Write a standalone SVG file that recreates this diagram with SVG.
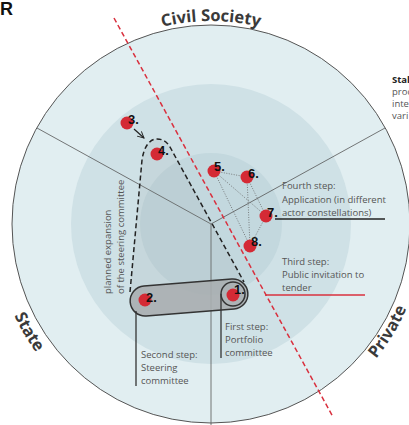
<svg xmlns="http://www.w3.org/2000/svg" width="409" height="425" viewBox="0 0 409 425">
<defs>
<style>
.lbl{font-family:"Open Sans","Liberation Sans",sans-serif;font-size:9.5px;fill:#555}
.num{font-family:"Liberation Sans",Arial,sans-serif;font-size:13px;font-weight:bold;fill:#111}
.sector{font-family:"Open Sans","Liberation Sans",sans-serif;font-size:16.5px;font-weight:bold;fill:#3a3a3a}
.node{fill:#d42a35}
.div{stroke:#555;stroke-width:0.8;fill:none}
.dot{stroke:#666;stroke-width:0.8;stroke-dasharray:1 1.5;fill:none}
.lead{stroke:#333;stroke-width:1.3;fill:none}
</style>
<marker id="open" viewBox="0 0 10 10" refX="9" refY="5" markerWidth="8" markerHeight="8" markerUnits="userSpaceOnUse" orient="auto">
<polyline points="1,1 9,5 1,9" fill="none" stroke="#222" stroke-width="1.2"/>
</marker>
<path id="arcTop" d="M 8,224 A 203 203 0 0 1 414,224"/>
<path id="arcState" d="M -6,224 A 217 217 0 0 0 211,441"/>
<path id="arcPrivate" d="M 211,437 A 213 213 0 0 0 424,224"/>
</defs>
<rect width="409" height="425" fill="#fff"/>
<g id="rings">
<circle cx="211" cy="224" r="199" fill="#e1eef1" stroke="#555" stroke-width="1"/>
<circle cx="211" cy="224" r="140" fill="#cfe1e6"/>
<circle cx="211" cy="224" r="71" fill="#c3d8de"/>
</g>
<g id="dividers">
<line class="div" x1="211" y1="224" x2="37" y2="128"/>
<line class="div" x1="211" y1="224" x2="385" y2="128"/>
<line class="div" x1="211" y1="224" x2="211" y2="425"/>
</g>
<g id="lasso">
<path d="M 130,292 L 142,160 C 144,146 150,139 157,139 C 163,139 167,142 170,147 L 244,282 Z" fill="#8a9396" fill-opacity="0.12" stroke="none"/>
<path d="M 130,292 L 142,160 C 144,146 150,139 157,139 C 163,139 167,142 170,147 L 244,282" fill="none" stroke="#222" stroke-width="1.5" stroke-dasharray="5 3"/>
</g>
<g id="capsule">
<rect x="130" y="282.5" width="118" height="30" rx="15" fill="#a8aeb0" fill-opacity="0.9" stroke="#333" stroke-width="1.5" transform="rotate(-4.5 189 297.5)"/>
<circle cx="233" cy="294" r="12" fill="none" stroke="#333" stroke-width="1.5"/>
</g>
<g id="connectors">
<line class="dot" x1="214" y1="171" x2="247" y2="177"/>
<line class="dot" x1="214" y1="171" x2="266" y2="216"/>
<line class="dot" x1="214" y1="171" x2="250" y2="246"/>
<line class="dot" x1="247" y1="177" x2="266" y2="216"/>
<line class="dot" x1="247" y1="177" x2="250" y2="246"/>
<line class="dot" x1="266" y1="216" x2="250" y2="246"/>
<line x1="134" y1="129" x2="144" y2="138" stroke="#222" stroke-width="1.2" marker-end="url(#open)"/>
<line x1="114" y1="18" x2="333" y2="417" stroke="#d9303e" stroke-width="1.5" stroke-dasharray="5 3"/>
<line class="lead" x1="221" y1="294" x2="221" y2="358"/>
<line class="lead" x1="136" y1="311" x2="136" y2="386"/>
<line x1="265" y1="295" x2="365" y2="295" stroke="#d9303e" stroke-width="1.5"/>
<line x1="275" y1="219" x2="385" y2="219" stroke="#222" stroke-width="1.5"/>
</g>
<g id="n1"><circle class="node" cx="233" cy="295" r="6.5"/><text class="num" x="234" y="294">1.</text></g>
<g id="n2"><circle class="node" cx="145" cy="300" r="6.5"/><text class="num" x="146" y="302">2.</text></g>
<g id="n3"><circle class="node" cx="127" cy="123" r="6.5"/><text class="num" x="128" y="124">3.</text></g>
<g id="n4"><circle class="node" cx="157" cy="154" r="6.5"/><text class="num" x="158" y="155">4.</text></g>
<g id="n5"><circle class="node" cx="214" cy="171" r="6.5"/><text class="num" x="214" y="171">5.</text></g>
<g id="n6"><circle class="node" cx="247" cy="177" r="6.5"/><text class="num" x="248" y="178">6.</text></g>
<g id="n7"><circle class="node" cx="266" cy="216" r="6.5"/><text class="num" x="267" y="217">7.</text></g>
<g id="n8"><circle class="node" cx="250" cy="246" r="6.5"/><text class="num" x="251" y="246">8.</text></g>
<g id="labels">
<text class="lbl"><tspan x="225" y="330">First step:</tspan><tspan x="225" y="343">Portfolio</tspan><tspan x="225" y="356">committee</tspan></text>
<text class="lbl"><tspan x="141" y="358">Second step:</tspan><tspan x="141" y="371">Steering</tspan><tspan x="141" y="384">committee</tspan></text>
<text class="lbl"><tspan x="282" y="265">Third step:</tspan><tspan x="282" y="278">Public invitation to</tspan><tspan x="282" y="291">tender</tspan></text>
<text class="lbl"><tspan x="282" y="189">Fourth step:</tspan><tspan x="282" y="203">Application (in different</tspan><tspan x="282" y="216">actor constellations)</tspan></text>
<text class="lbl" transform="translate(111 294) rotate(-90)"><tspan x="0" y="0">planned expansion</tspan><tspan x="0" y="12.5">of the steering committee</tspan></text>
</g>
<g id="sectors">
<text class="sector" text-anchor="middle"><textPath href="#arcTop" startOffset="50%">Civil Society</textPath></text>
<text class="sector" text-anchor="middle"><textPath href="#arcState" startOffset="116">State</textPath></text>
<text class="sector" text-anchor="middle" font-size="16"><textPath href="#arcPrivate" startOffset="218">Private</textPath></text>
</g>
<g id="side">
<text x="0" y="15" font-family="Liberation Sans, Arial, sans-serif" font-size="18" font-weight="bold" fill="#111">R</text>
<text x="392" y="83" font-family="Open Sans, Liberation Sans, sans-serif" font-size="9.5" font-weight="bold" fill="#222">Stal</text>
<text class="lbl"><tspan x="392" y="95">proc</tspan><tspan x="392" y="107">inte</tspan><tspan x="392" y="119">vari</tspan></text>
</g>
</svg>
